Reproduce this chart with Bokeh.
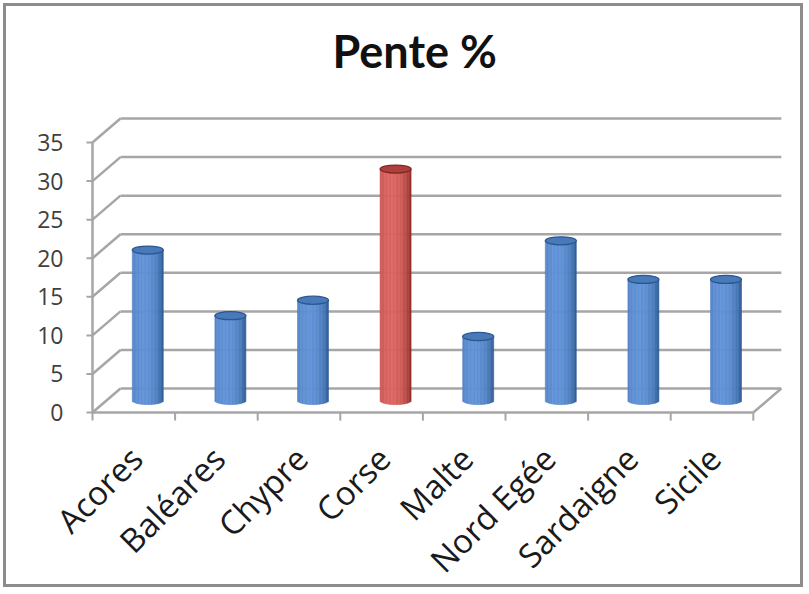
import numpy as np
from bokeh.plotting import figure
from bokeh.models import Range1d, Label, ColumnDataSource
from bokeh.core.properties import value
from bokeh.embed import file_html
from bokeh.resources import INLINE

# Slope (%) per island
categories = ["Acores", "Baléares", "Chypre", "Corse", "Malte", "Nord Egée", "Sardaigne", "Sicile"]
pente = [19.5, 11.0, 13.0, 30.0, 8.3, 20.7, 15.7, 15.7]
highlighted = ["Corse"]
y_ticks = [0, 5, 10, 15, 20, 25, 30, 35]

n = len(categories)

# pseudo-3D geometry (data units: one category = 1 on x, one percent = 1 on y)
DX, DY = 0.339, 3.11       # depth offset of the back wall
BW, EH = 0.375, 1.05       # cylinder width, ellipse height
TICK_X = 0.073             # value tick length
TICK_Y = 1.05              # category boundary tick length
YLAB_DX = 0.351            # gap between value axis and its labels
LABEL_DY = 5.2             # gap between floor edge and category labels
GRID = "#a6a6a6"

BLUE = dict(edge=(36, 78, 134), light=(96, 146, 214), top="#4879b9", line="#2b5790")
RED = dict(edge=(126, 32, 30), light=(220, 100, 96), top="#ad3f3c", line="#842624")


def shade(pal, t):
    w = max(0.0, 1.0 - ((t + 0.25) / 1.25) ** 2) ** 0.55
    e, l = pal["edge"], pal["light"]
    r, g, b = (int(round(e[k] + (l[k] - e[k]) * w)) for k in range(3))
    return f"#{r:02x}{g:02x}{b:02x}"


p = figure(width=800, height=584, output_backend="svg", toolbar_location=None,
           x_range=Range1d(-1.041, 8.644), y_range=Range1d(-23.07, 52.63),
           min_border_left=0, min_border_right=0, min_border_top=0, min_border_bottom=0,
           x_axis_location=None, y_axis_location=None)
p.styles = {"border": "3px solid #8c8c8c", "margin-left": "3px", "margin-top": "3px"}
p.outline_line_color = None
p.xgrid.visible = False
p.ygrid.visible = False
p.background_fill_color = "white"
p.border_fill_color = "white"

# back wall gridlines
p.segment(x0=[DX] * len(y_ticks), y0=[v + DY for v in y_ticks],
          x1=[n + DX] * len(y_ticks), y1=[v + DY for v in y_ticks],
          line_color=GRID, line_width=2.5)
# side wall
p.segment(x0=[0] * len(y_ticks), y0=y_ticks,
          x1=[DX] * len(y_ticks), y1=[v + DY for v in y_ticks],
          line_color=GRID, line_width=2.5)
# floor right edge
p.segment(x0=[n], y0=[0], x1=[n + DX], y1=[DY], line_color=GRID, line_width=2.5)

# cylinders
NS = 22
ts = np.linspace(-1, 1, NS + 1)
mids = (ts[:-1] + ts[1:]) / 2
for i, (cat, v) in enumerate(zip(categories, pente)):
    pal = RED if cat in highlighted else BLUE
    xc = i + 0.5 + DX / 2
    base = DY / 2
    top = base + v
    colors = [shade(pal, m) for m in mids]
    p.quad(left=xc + ts[:-1] * BW / 2, right=xc + ts[1:] * BW / 2,
           bottom=base - EH / 2 * np.sqrt(1 - mids ** 2), top=[top] * NS,
           fill_color=colors, line_color=colors, line_width=0.6)
    p.ellipse(x=[xc], y=[top], width=BW, height=EH,
              fill_color=pal["top"], line_color=pal["line"], line_width=1.3)

# front axis lines and ticks
p.segment(x0=[0], y0=[0], x1=[0], y1=[max(y_ticks)], line_color=GRID, line_width=2.5)
p.segment(x0=[0], y0=[0], x1=[n], y1=[0], line_color=GRID, line_width=2.5)
p.segment(x0=list(range(n + 1)), y0=[0] * (n + 1), x1=list(range(n + 1)), y1=[-TICK_Y] * (n + 1),
          line_color=GRID, line_width=2)
p.segment(x0=[0] * len(y_ticks), y0=y_ticks, x1=[-TICK_X] * len(y_ticks), y1=y_ticks,
          line_color=GRID, line_width=2)

# value labels
ylab = ColumnDataSource(dict(x=[-YLAB_DX] * len(y_ticks), y=y_ticks,
                             text=[str(v) for v in y_ticks]))
p.text(x="x", y="y", text="text", source=ylab, text_align="right", text_baseline="middle",
       text_font=value("Open Sans"), text_font_size="23px", text_color="#404040")

# rotated category labels
lab = ColumnDataSource(dict(x=[i + 0.53 for i in range(n)], y=[-LABEL_DY] * n, text=categories))
p.text(x="x", y="y", text="text", source=lab, angle=np.pi / 4,
       text_align="right", text_baseline="middle",
       text_font=value("Open Sans"), text_font_size="33px", text_color="#1a1a1a")

p.add_layout(Label(x=3.90, y=46.9, text="Pente %", text_align="center",
                   text_baseline="alphabetic", text_font="Lato", text_font_size="45px",
                   text_font_style="bold", text_color="#111111"))

open("out.html", "w").write(file_html(p, INLINE))
